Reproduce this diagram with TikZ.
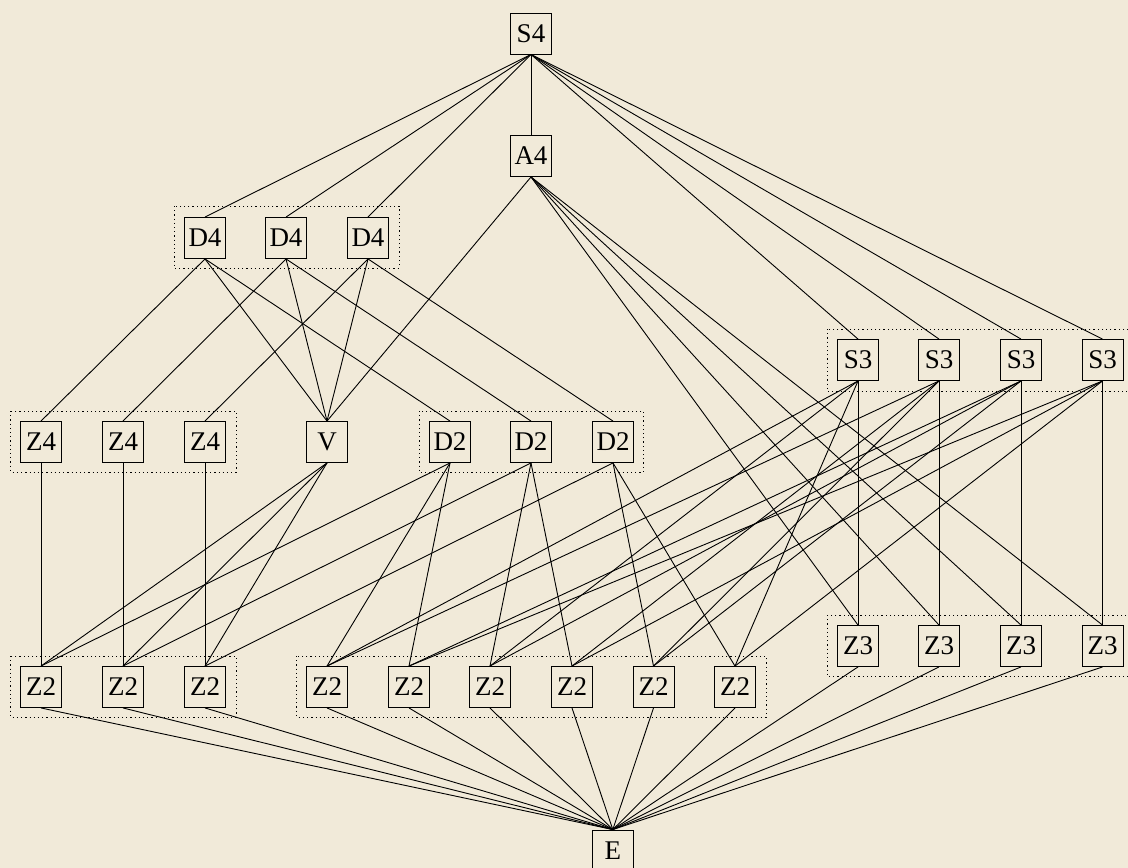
\documentclass[tikz,border=0pt]{standalone}
\usepackage{fontspec}
\setmainfont{Liberation Serif}
\definecolor{bgc}{RGB}{241,234,217}
\begin{document}
\begin{tikzpicture}[x=1pt,y=-1pt,
  grp/.style={draw=black, line width=0.9pt, minimum width=41pt, minimum height=41pt, inner sep=0pt, font=\fontsize{27}{30}\selectfont},
  lnk/.style={draw=black, line width=0.9pt},
  cluster/.style={draw=black, line width=1pt, dash pattern=on 1.2pt off 3pt}]
\clip (0,0) rectangle (1128,868);
\fill[bgc] (0,0) rectangle (1128,868);
% clusters
\draw[cluster] (174,206) rectangle (399,268);
\draw[cluster] (827,329) rectangle (1134,391);
\draw[cluster] (10.7,411) rectangle (236,472);
\draw[cluster] (419,411) rectangle (643.5,472);
\draw[cluster] (827,615) rectangle (1134,676);
\draw[cluster] (10.7,656) rectangle (236,717);
\draw[cluster] (296.7,656) rectangle (766,717);
% nodes
\node[grp] (s4) at (531,33.5) {S4};
\node[grp] (a4) at (531,156) {A4};
\node[grp] (d4a) at (205,238) {D4};
\node[grp] (d4b) at (286,238) {D4};
\node[grp] (d4c) at (368,238) {D4};
\node[grp] (s3a) at (858,360) {S3};
\node[grp] (s3b) at (939,360) {S3};
\node[grp] (s3c) at (1021,360) {S3};
\node[grp] (s3d) at (1102.5,360) {S3};
\node[grp] (z4a) at (41,442) {Z4};
\node[grp] (z4b) at (123,442) {Z4};
\node[grp] (z4c) at (205,442) {Z4};
\node[grp] (v) at (327,442) {V};
\node[grp] (d2a) at (450,442) {D2};
\node[grp] (d2b) at (531,442) {D2};
\node[grp] (d2c) at (613,442) {D2};
\node[grp] (z3a) at (858,646) {Z3};
\node[grp] (z3b) at (939,646) {Z3};
\node[grp] (z3c) at (1021,646) {Z3};
\node[grp] (z3d) at (1102.5,646) {Z3};
\node[grp] (z2a) at (41,687) {Z2};
\node[grp] (z2b) at (123,687) {Z2};
\node[grp] (z2c) at (205,687) {Z2};
\node[grp] (z2d) at (327,687) {Z2};
\node[grp] (z2e) at (409,687) {Z2};
\node[grp] (z2f) at (490,687) {Z2};
\node[grp] (z2g) at (572,687) {Z2};
\node[grp] (z2h) at (653.5,687) {Z2};
\node[grp] (z2i) at (735,687) {Z2};
\node[grp] (e) at (612.8,850.5) {E};
% edges
\foreach \t in {a4,d4a,d4b,d4c,s3a,s3b,s3c,s3d} \draw[lnk] (s4.south) -- (\t.north);
\foreach \t in {v,z3a,z3b,z3c,z3d} \draw[lnk] (a4.south) -- (\t.north);
\foreach \t in {z4a,v,d2a} \draw[lnk] (d4a.south) -- (\t.north);
\foreach \t in {z4b,v,d2b} \draw[lnk] (d4b.south) -- (\t.north);
\foreach \t in {z4c,v,d2c} \draw[lnk] (d4c.south) -- (\t.north);
\foreach \t in {z3a,z2d,z2f,z2i} \draw[lnk] (s3a.south) -- (\t.north);
\foreach \t in {z3b,z2d,z2g,z2h} \draw[lnk] (s3b.south) -- (\t.north);
\foreach \t in {z3c,z2e,z2f,z2h} \draw[lnk] (s3c.south) -- (\t.north);
\foreach \t in {z3d,z2e,z2g,z2i} \draw[lnk] (s3d.south) -- (\t.north);
\draw[lnk] (z4a.south) -- (z2a.north);
\draw[lnk] (z4b.south) -- (z2b.north);
\draw[lnk] (z4c.south) -- (z2c.north);
\foreach \t in {z2a,z2b,z2c} \draw[lnk] (v.south) -- (\t.north);
\foreach \t in {z2a,z2d,z2e} \draw[lnk] (d2a.south) -- (\t.north);
\foreach \t in {z2b,z2f,z2g} \draw[lnk] (d2b.south) -- (\t.north);
\foreach \t in {z2c,z2h,z2i} \draw[lnk] (d2c.south) -- (\t.north);
\foreach \s in {z2a,z2b,z2c,z2d,z2e,z2f,z2g,z2h,z2i,z3a,z3b,z3c,z3d} \draw[lnk] (\s.south) -- (e.north);
\end{tikzpicture}
\end{document}
